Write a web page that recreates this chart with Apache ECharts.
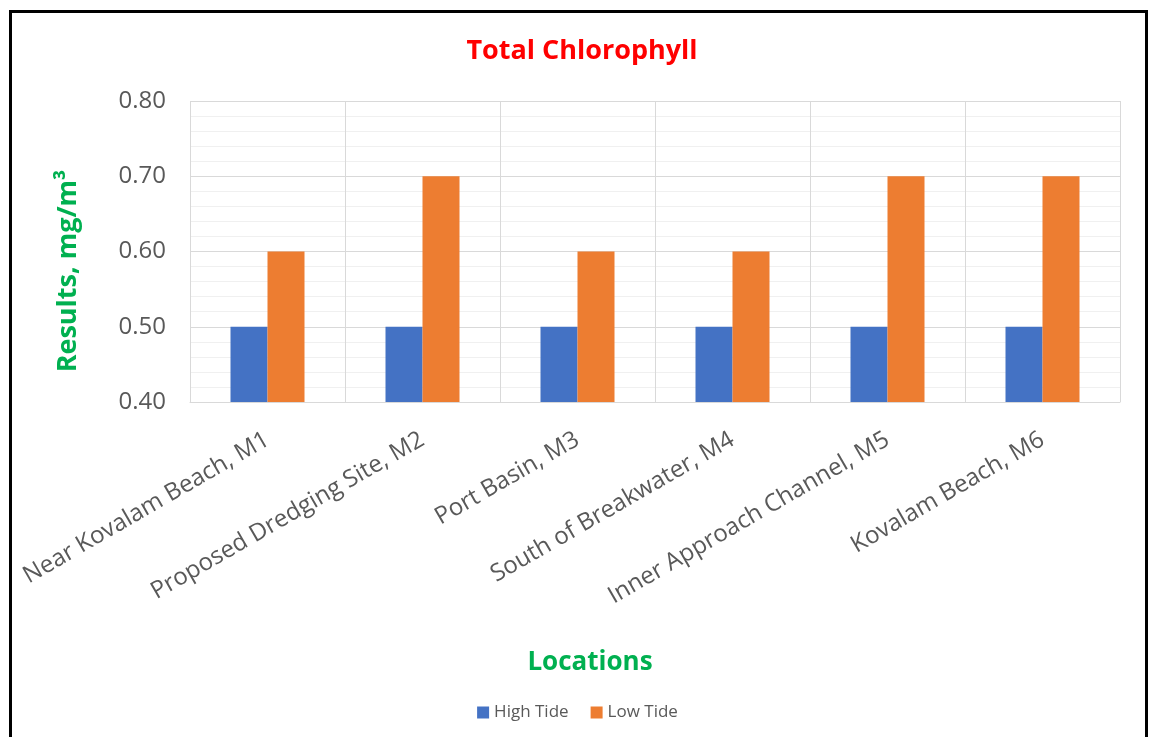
<!DOCTYPE html>
<html>
<head>
<meta charset="utf-8">
<script src="https://cdn.jsdelivr.net/npm/echarts@6/dist/echarts.min.js"></script>
<style>
  html, body { margin: 0; padding: 0; background: #fff; }
  #frame { position: absolute; left: 9px; top: 10px; width: 1139px; height: 740px; border: 3px solid #000; box-sizing: border-box; }
  #chart { position: absolute; left: 0; top: 0; width: 1155px; height: 737px; }
</style>
</head>
<body>
<div id="frame"></div>
<div id="chart"></div>
<script>
const locations = ['Near Kovalam Beach, M1', 'Proposed Dredging Site, M2', 'Port Basin, M3',
    'South of Breakwater, M4', 'Inner Approach Channel, M5', 'Kovalam Beach, M6'];
const highTide = [0.5, 0.5, 0.5, 0.5, 0.5, 0.5];
const lowTide = [0.6, 0.7, 0.6, 0.6, 0.7, 0.7];

const font = '"Open Sans", sans-serif';
const chart = echarts.init(document.getElementById('chart'));

chart.setOption({
    animation: false,
    textStyle: {fontFamily: font},
    title: {
        text: 'Total Chlorophyll',
        left: 577, top: 33, textAlign: 'center',
        textStyle: {color: '#FF0000', fontSize: 27, fontWeight: 'bold', fontFamily: font}
    },
    legend: {
        data: ['High Tide', 'Low Tide'],
        left: 'center', top: 699,
        itemWidth: 12, itemHeight: 12, itemGap: 22,
        icon: 'rect',
        textStyle: {color: '#595959', fontSize: 17, fontFamily: font}
    },
    graphic: [
        {
            type: 'text', x: 590, y: 663, silent: true,
            style: {text: 'Locations', fill: '#00B050', font: 'bold 26px "Open Sans", sans-serif',
                align: 'center', verticalAlign: 'middle'}
        },
        {
            type: 'text', x: 68, y: 271, rotation: Math.PI / 2, silent: true,
            style: {text: 'Results, mg/m³', fill: '#00B050', font: 'bold 27px "Open Sans", sans-serif',
                align: 'center', verticalAlign: 'middle'}
        }
    ],
    grid: {left: 190, right: 35, top: 101, bottom: 335},
    xAxis: {
        type: 'category',
        data: locations,
        axisLine: {lineStyle: {color: '#d9d9d9'}},
        axisTick: {show: false},
        splitLine: {show: true, lineStyle: {color: '#d9d9d9'}},
        axisLabel: {rotate: 30, color: '#595959', fontSize: 24, margin: 36, interval: 0, fontFamily: font}
    },
    yAxis: {
        type: 'value',
        min: 0.4, max: 0.8, interval: 0.1,
        axisLine: {show: false},
        axisTick: {show: false},
        axisLabel: {color: '#595959', fontSize: 24, margin: 24, formatter: v => v.toFixed(2), fontFamily: font},
        splitLine: {lineStyle: {color: '#d9d9d9'}},
        minorTick: {show: false, splitNumber: 5},
        minorSplitLine: {show: true, lineStyle: {color: '#f0f0f0'}}
    },
    series: [
        {name: 'High Tide', type: 'bar', data: highTide, barWidth: 37, barGap: '0%',
            itemStyle: {color: '#4472C4'}},
        {name: 'Low Tide', type: 'bar', data: lowTide, barWidth: 37,
            itemStyle: {color: '#ED7D31'}}
    ]
});
</script>
</body>
</html>
